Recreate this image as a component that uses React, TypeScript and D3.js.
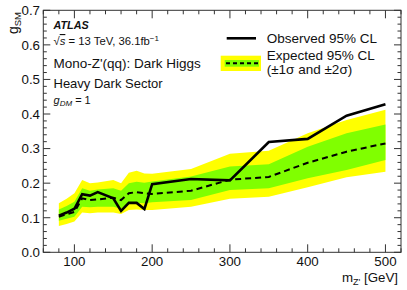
import React from "react";
import * as d3 from "d3";

const masses = [80, 90, 100, 110, 120, 130, 150, 160, 170, 180, 190, 200, 250, 300, 350, 400, 450, 500];
const observed = [0.106, 0.115, 0.126, 0.168, 0.164, 0.174, 0.156, 0.12, 0.143, 0.143, 0.125, 0.197, 0.212, 0.208, 0.319, 0.328, 0.395, 0.428];
const expected = [0.103, 0.11, 0.117, 0.156, 0.151, 0.153, 0.158, 0.151, 0.171, 0.174, 0.171, 0.169, 0.178, 0.21, 0.218, 0.259, 0.291, 0.315];
const plus2 = [0.142, 0.155, 0.171, 0.209, 0.2, 0.202, 0.209, 0.2, 0.23, 0.236, 0.228, 0.227, 0.241, 0.285, 0.294, 0.344, 0.383, 0.412];
const plus1 = [0.124, 0.134, 0.146, 0.185, 0.178, 0.182, 0.185, 0.178, 0.2, 0.204, 0.201, 0.205, 0.219, 0.248, 0.255, 0.305, 0.344, 0.37];
const minus1 = [0.091, 0.097, 0.103, 0.132, 0.13, 0.132, 0.132, 0.127, 0.142, 0.143, 0.142, 0.145, 0.151, 0.18, 0.185, 0.214, 0.238, 0.267];
const minus2 = [0.076, 0.082, 0.089, 0.115, 0.113, 0.115, 0.115, 0.111, 0.122, 0.124, 0.122, 0.122, 0.132, 0.155, 0.161, 0.188, 0.217, 0.233];

const xMajor = [100, 200, 300, 400, 500];
const yMajor = [0, 0.1, 0.2, 0.3, 0.4, 0.5, 0.6, 0.7];

const W = 407, H = 290;
const L = 43.3, R = 401, T = 10.3, B = 252.3;
const FONT = "'Liberation Sans', Arial, Helvetica, sans-serif";

export default function App() {
  const x = d3.scaleLinear().domain([60, 520]).range([L, R]);
  const y = d3.scaleLinear().domain([0, 0.7]).range([B, T]);
  const idx = masses.map((_, i) => i);

  const band = (lo: number[], hi: number[]) =>
    d3.area<number>().x(i => x(masses[i])).y0(i => y(lo[i])).y1(i => y(hi[i]))(idx) || "";
  const line = (v: number[]) => d3.line<number>().x(i => x(masses[i])).y(i => y(v[i]))(idx) || "";

  const xMinor = d3.range(60, 521, 20).filter(v => !xMajor.includes(v));
  const yMinor = d3.range(0, 0.7001, 0.02).map(v => +v.toFixed(2)).filter(v => !yMajor.some(m => Math.abs(m - v) < 1e-6));

  return (
    <svg width={W} height={H} style={{ position: "absolute", left: 0, top: 0 }} fontFamily={FONT}>
      <rect width={W} height={H} fill="white" />
      <path d={band(minus2, plus2)} fill="#ffff00" />
      <path d={band(minus1, plus1)} fill="#80ff00" />
      <path d={line(expected)} fill="none" stroke="black" strokeWidth={2} strokeDasharray="6,4" />
      <path d={line(observed)} fill="none" stroke="black" strokeWidth={2.6} strokeLinejoin="miter" />

      <rect x={L} y={T} width={R - L} height={B - T} fill="none" stroke="#333" strokeWidth={1} />
      {xMajor.map(v => (
        <g key={"xm" + v}>
          <line x1={x(v)} x2={x(v)} y1={B} y2={B - 8} stroke="#333" />
          <line x1={x(v)} x2={x(v)} y1={T} y2={T + 8} stroke="#333" />
          <text x={x(v)} y={265.5} textAnchor="middle" fontSize={13.3} fill="#111">{v}</text>
        </g>
      ))}
      {xMinor.map(v => (
        <g key={"xn" + v}>
          <line x1={x(v)} x2={x(v)} y1={B} y2={B - 4} stroke="#333" />
          <line x1={x(v)} x2={x(v)} y1={T} y2={T + 4} stroke="#333" />
        </g>
      ))}
      {yMajor.map(v => (
        <g key={"ym" + v}>
          <line x1={L} x2={L + 7} y1={y(v)} y2={y(v)} stroke="#333" />
          <line x1={R} x2={R - 7} y1={y(v)} y2={y(v)} stroke="#333" />
          <text x={40} y={y(v) + 4.8} textAnchor="end" fontSize={13.3} fill="#111">{v.toFixed(1)}</text>
        </g>
      ))}
      {yMinor.map(v => (
        <g key={"yn" + v}>
          <line x1={L} x2={L + 3.5} y1={y(v)} y2={y(v)} stroke="#333" />
          <line x1={R} x2={R - 3.5} y1={y(v)} y2={y(v)} stroke="#333" />
        </g>
      ))}

      <text transform="translate(17.5,12) rotate(-90)" textAnchor="end" fontSize={14} fill="#111">
        g<tspan fontSize={9.5} dy={3}>SM</tspan>
      </text>
      <text x={398} y={282} textAnchor="end" fontSize={13.3} fill="#111">
        m<tspan fontSize={9} dy={3}>Z'</tspan><tspan dy={-3}> [GeV]</tspan>
      </text>

      <text x={53.5} y={29} fontSize={10.8} fontWeight="bold" fontStyle="italic" fill="#111">ATLAS</text>
      <text x={53.5} y={45} fontSize={11.3} fill="#111">
        √<tspan textDecoration="overline" fontStyle="italic">s</tspan> = 13 TeV, 36.1fb<tspan fontSize={8} dy={-4.5}>−1</tspan>
      </text>
      <text x={53.5} y={67.5} fontSize={13.5} fill="#111">Mono-Z'(qq): Dark Higgs</text>
      <text x={53.5} y={88} fontSize={13} fill="#111">Heavy Dark Sector</text>
      <text x={53.5} y={104} fontSize={11} fontStyle="italic" fill="#111">
        g<tspan fontSize={8} dy={1.5}>DM</tspan><tspan dy={-1.5} fontStyle="normal"> = 1</tspan>
      </text>

      <line x1={226.7} x2={256} y1={38.3} y2={38.3} stroke="black" strokeWidth={2.6} />
      <text x={266.7} y={42.5} fontSize={13.5} fill="#111">Observed 95% CL</text>
      <rect x={220.7} y={55.7} width={40.3} height={15.3} fill="#ffff00" />
      <rect x={224.7} y={60} width={34.3} height={6.7} fill="#80ff00" />
      <line x1={226} x2={258} y1={63.3} y2={63.3} stroke="black" strokeWidth={2} strokeDasharray="4,3" />
      <text x={266.7} y={59.5} fontSize={13.5} fill="#111">Expected 95% CL</text>
      <text x={266.7} y={73.5} fontSize={13.5} fill="#111">(±1σ and ±2σ)</text>
    </svg>
  );
}
